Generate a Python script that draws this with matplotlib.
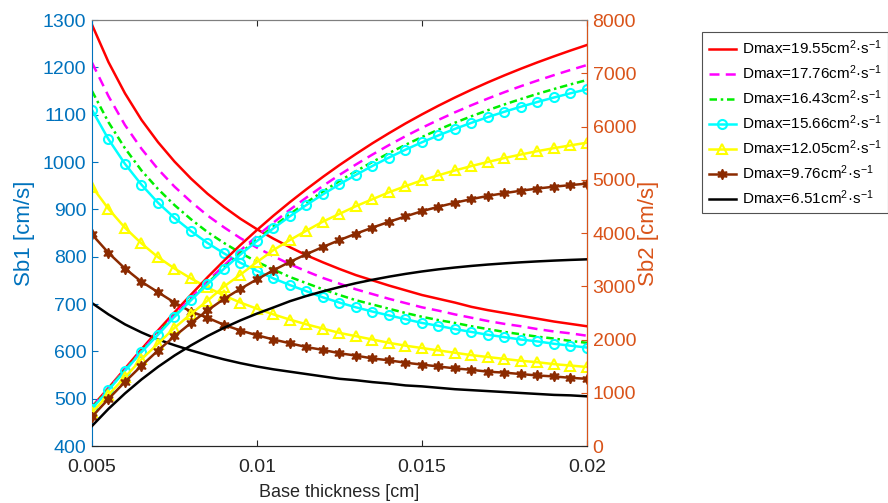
import matplotlib
matplotlib.use("Agg")
import matplotlib.pyplot as plt

plt.rcParams['font.family'] = ['Liberation Sans', 'DejaVu Sans']
plt.rcParams['mathtext.fontset'] = 'custom'
plt.rcParams['mathtext.rm'] = 'Liberation Sans'
plt.rcParams['mathtext.it'] = 'Liberation Sans'
plt.rcParams['mathtext.bf'] = 'Liberation Sans:bold'

# base thickness [cm], one point every 0.0005
thickness = [round(0.005 + 0.0005 * i, 4) for i in range(31)]

labels = ["Dmax=19.55cm$^{2}$·s$^{-1}$", "Dmax=17.76cm$^{2}$·s$^{-1}$",
          "Dmax=16.43cm$^{2}$·s$^{-1}$", "Dmax=15.66cm$^{2}$·s$^{-1}$",
          "Dmax=12.05cm$^{2}$·s$^{-1}$", "Dmax=9.76cm$^{2}$·s$^{-1}$",
          "Dmax=6.51cm$^{2}$·s$^{-1}$"]

# Sb1 [cm/s] (left axis, decreasing)
sb1_1955 = [1290, 1211, 1145, 1089, 1042, 1001, 965, 933, 905, 880, 858, 838, 820, 803, 788, 774,
            761, 750, 739, 729, 719, 711, 703, 694, 687, 681, 675, 669, 663, 658, 653]
sb1_1776 = [1210, 1139, 1078, 1028, 985, 948, 916, 887, 862, 839, 819, 801, 784, 769, 755, 743,
            731, 721, 711, 702, 693, 686, 678, 671, 664, 658, 653, 647, 642, 638, 633]
sb1_1643 = [1150, 1084, 1029, 982, 943, 909, 879, 852, 829, 808, 789, 773, 757, 744, 731, 719,
            708, 699, 690, 681, 673, 666, 660, 653, 647, 641, 636, 631, 627, 622, 618]
sb1_1566 = [1110, 1048, 996, 952, 914, 882, 854, 829, 807, 787, 770, 754, 740, 727, 714, 703,
            693, 684, 676, 668, 660, 654, 647, 641, 635, 630, 625, 621, 616, 612, 608]
sb1_1205 = [948, 901, 861, 828, 799, 775, 754, 735, 718, 703, 690, 678, 667, 657, 648, 639,
            632, 625, 618, 612, 607, 602, 597, 592, 588, 584, 580, 577, 573, 570, 567]
sb1_976 = [847, 808, 775, 747, 725, 703, 684, 671, 656, 644, 634, 625, 617, 609, 603, 596,
           591, 585, 581, 576, 572, 568, 564, 561, 557, 555, 552, 549, 547, 544, 542]
sb1_651 = [702, 678, 657, 640, 625, 613, 602, 592, 583, 575, 568, 562, 557, 552, 547, 542,
           539, 535, 532, 528, 526, 523, 520, 518, 516, 514, 512, 510, 508, 507, 505]

# Sb2 [cm/s] (right axis, increasing)
sb2_1955 = [740, 1090, 1455, 1819, 2170, 2511, 2842, 3169, 3480, 3776, 4057, 4326, 4581, 4823,
            5055, 5276, 5485, 5686, 5875, 6057, 6228, 6391, 6545, 6691, 6830, 6961, 7086, 7205,
            7318, 7427, 7531]
sb2_1776 = [730, 1075, 1433, 1787, 2129, 2459, 2779, 3093, 3392, 3674, 3942, 4197, 4439, 4667,
            4885, 5092, 5287, 5474, 5651, 5818, 5976, 6125, 6267, 6400, 6526, 6645, 6758, 6863,
            6965, 7062, 7155]
sb2_1643 = [720, 1067, 1423, 1775, 2113, 2438, 2751, 3058, 3348, 3622, 3880, 4125, 4356, 4574,
            4781, 4977, 5161, 5336, 5501, 5656, 5803, 5941, 6071, 6193, 6307, 6415, 6517, 6613,
            6704, 6791, 6873]
sb2_1566 = [700, 1052, 1412, 1766, 2089, 2427, 2738, 3042, 3328, 3597, 3850, 4090, 4315, 4527,
            4727, 4915, 5093, 5260, 5417, 5565, 5704, 5834, 5956, 6070, 6177, 6278, 6372, 6461,
            6545, 6624, 6699]
sb2_1205 = [630, 962, 1293, 1630, 1921, 2220, 2480, 2730, 2995, 3220, 3455, 3680, 3870, 4045,
            4215, 4360, 4505, 4635, 4765, 4880, 4990, 5085, 5175, 5258, 5335, 5408, 5475, 5538,
            5594, 5646, 5696]
sb2_976 = [550, 885, 1205, 1508, 1793, 2061, 2311, 2545, 2763, 2953, 3131, 3301, 3458, 3603,
           3739, 3867, 3988, 4102, 4210, 4312, 4410, 4493, 4569, 4637, 4697, 4749, 4795, 4835,
           4870, 4900, 4928]
sb2_651 = [376, 698, 988, 1250, 1486, 1699, 1890, 2064, 2220, 2360, 2487, 2602, 2720, 2818,
           2905, 2985, 3058, 3122, 3180, 3232, 3278, 3318, 3352, 3382, 3408, 3430, 3450, 3467,
           3482, 3495, 3506]

sb1 = [sb1_1955, sb1_1776, sb1_1643, sb1_1566, sb1_1205, sb1_976, sb1_651]
sb2 = [sb2_1955, sb2_1776, sb2_1643, sb2_1566, sb2_1205, sb2_976, sb2_651]

brown = '#8B2A00'
styles = [
    dict(color='#FF0000', ls='-'),
    dict(color='#FF00FF', ls=(0, (4, 2.5))),
    dict(color='#00EE00', ls=(0, (3, 1.5, 1, 1.5))),
    dict(color='#00FFFF', ls='-', marker='o', ms=6.5, mfc='none', mew=1.5),
    dict(color='#FFFF00', ls='-', marker='^', ms=6.5, mfc='none', mew=1.5),
    dict(color=brown, ls='-', marker=(6, 1, 0), ms=7.5, mfc=brown, mec=brown),
    dict(color='#000000', ls='-'),
]

blue = '#0072BD'
orange = '#D95319'

fig = plt.figure(figsize=(8.88, 5.03), dpi=100)
ax1 = fig.add_axes([0.1036, 0.1133, 0.5574, 0.8469])
ax2 = ax1.twinx()

handles = []
for i in range(7):
    h, = ax1.plot(thickness, sb1[i], lw=1.8, label=labels[i], **styles[i])
    ax2.plot(thickness, sb2[i], lw=1.8, **styles[i])
    handles.append(h)

ax1.set_xlim(0.005, 0.02)
ax1.set_ylim(400, 1300)
ax2.set_ylim(0, 8000)
ax1.set_xticks([0.005, 0.01, 0.015, 0.02])
ax1.set_xticklabels(['0.005', '0.01', '0.015', '0.02'])
ax1.set_yticks(range(400, 1301, 100))
ax2.set_yticks(range(0, 8001, 1000))

ax1.tick_params(axis='x', direction='in', top=True, length=4, labelsize=14, colors='#262626', pad=9)
ax1.tick_params(axis='y', direction='in', length=4, labelsize=14, colors=blue, pad=4)
ax2.tick_params(axis='y', direction='in', length=4, labelsize=14, colors=orange, pad=4)

ax1.spines['left'].set_color(blue)
ax1.spines['top'].set_color('#7f7f7f')
ax1.spines['bottom'].set_color('#262626')
ax2.spines['right'].set_color(orange)
ax2.spines['left'].set_visible(False)
ax2.spines['top'].set_color('#7f7f7f')
ax2.spines['bottom'].set_color('#262626')
for ax in (ax1, ax2):
    for s in ax.spines.values():
        s.set_linewidth(0.8)

ax1.set_xlabel('Base thickness [cm]', fontsize=13, color='#262626', labelpad=6)
ax1.set_ylabel('Sb1 [cm/s]', fontsize=16, color=blue, labelpad=6)
ax2.set_ylabel('Sb2 [cm/s]', fontsize=16, color=orange, labelpad=1)

leg = fig.legend(handles=handles, loc='upper left', bbox_to_anchor=(0.791, 0.936),
                 fontsize=11, frameon=True, fancybox=False, edgecolor='#262626',
                 handlelength=1.8, handletextpad=0.4, labelspacing=0.42, borderpad=0.4,
                 borderaxespad=0)
leg.get_frame().set_linewidth(0.8)

fig.savefig('out.png', dpi=100)
